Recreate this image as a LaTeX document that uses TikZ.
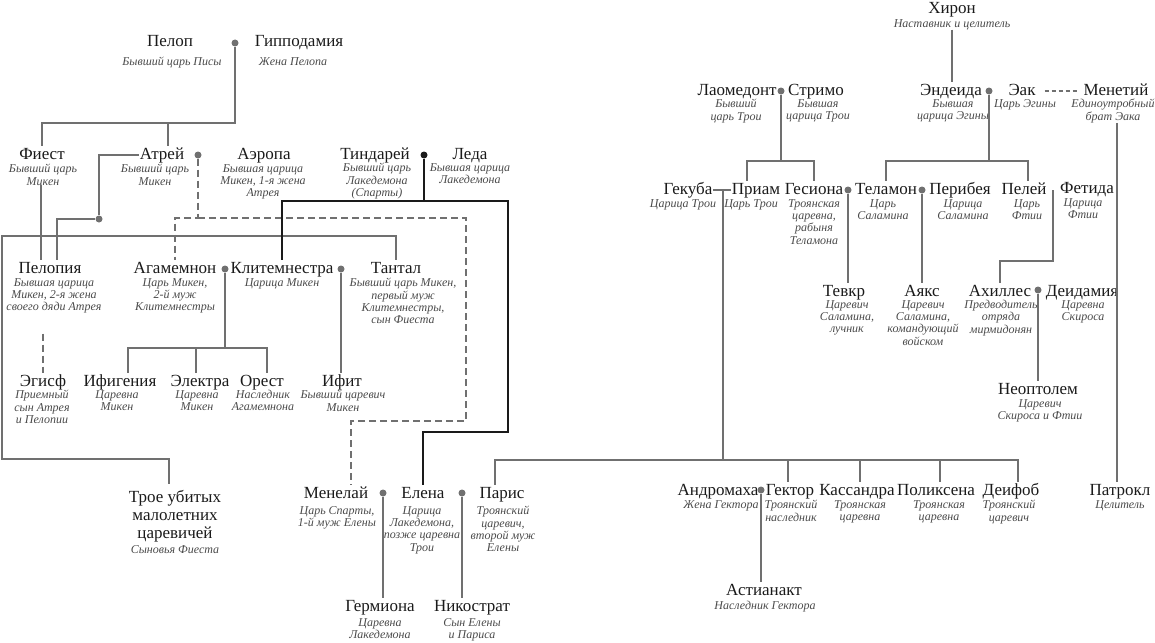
\documentclass[tikz,border=0pt]{standalone}
\usepackage{fontspec}
\setmainfont{Liberation Serif}
\definecolor{linegray}{HTML}{707070}
\definecolor{notegray}{HTML}{4A4A4A}
\definecolor{inkblack}{HTML}{1A1A1A}
\tikzset{
  person/.style={font=\fontsize{17}{18}\selectfont, text=inkblack, inner sep=1pt, text height=12pt, text depth=4pt},
  group/.style={font=\fontsize{17}{18}\selectfont, text=inkblack, inner xsep=1pt, inner ysep=6pt, align=center, anchor=north},
  note/.style={font=\fontsize{12}{12.4}\selectfont\itshape, text=notegray, inner sep=0pt, align=center, anchor=north},
  link/.style={draw=linegray, line width=1.3pt},
  tie/.style={draw=inkblack, line width=1.3pt},
  adopted/.style={link, dash pattern=on 7pt off 4pt},
  halfblood/.style={link, dash pattern=on 4pt off 3pt},
  knot/.style={circle, fill=linegray, inner sep=0pt, minimum size=7pt}
}
\begin{document}
\begin{tikzpicture}[x=1pt,y=-1pt]
        \useasboundingbox (0,0) rectangle (1155,642);
        \node[person] (pelop) at (170,43) {Пелоп};
        \node[note] (pelop-s) at (172,57) {Бывший царь Писы};
        \node[person] (hippodamia) at (299,43) {Гипподамия};
        \node[note] (hippodamia-s) at (293,57) {Жена Пелопа};
        \node[knot] (pelopknot) at (235,43) {};
        \node[person] (thyestes) at (42,155) {Фиест};
        \node[note] (thyestes-s) at (43,164) {Бывший царь\\Микен};
        \node[person] (atreus) at (162,155) {Атрей};
        \node[note] (atreus-s) at (155,164) {Бывший царь\\Микен};
        \node[knot] (atreusknot) at (198,155) {};
        \node[person] (aerope) at (264,155) {Аэропа};
        \node[note] (aerope-s) at (263,164) {Бывшая царица\\Микен, 1-я жена\\Атрея};
        \node[person] (tyndareus) at (375,155) {Тиндарей};
        \node[note] (tyndareus-s) at (377,163) {Бывший царь\\Лакедемона\\(Спарты)};
        \node[knot, fill=inkblack] (tyndareusknot) at (424,155) {};
        \node[person] (leda) at (470,155) {Леда};
        \node[note] (leda-s) at (470,163) {Бывшая царица\\Лакедемона};
        \node[person] (pelopia) at (50,269) {Пелопия};
        \node[note] (pelopia-s) at (54,278) {Бывшая царица\\Микен, 2-я жена\\своего дяди Атрея};
        \node[knot] (pelopiaknot) at (99,219) {};
        \node[person] (agamemnon) at (175,269) {Агамемнон};
        \node[note] (agamemnon-s) at (175,278) {Царь Микен,\\2-й муж\\Клитемнестры};
        \node[knot] (agamemnonknot) at (225,269) {};
        \node[person] (clytemnestra) at (282,269) {Клитемнестра};
        \node[note] (clytemnestra-s) at (282,278) {Царица Микен};
        \node[knot] (clytemnestraknot) at (341,269) {};
        \node[person] (tantalus) at (396,269) {Тантал};
        \node[note] (tantalus-s) at (403,278) {Бывший царь Микен,\\первый муж\\Клитемнестры,\\сын Фиеста};
        \node[person] (aegisthus) at (43,382) {Эгисф};
        \node[note] (aegisthus-s) at (42,390) {Приемный\\сын Атрея\\и Пелопии};
        \node[person] (iphigenia) at (120,382) {Ифигения};
        \node[note] (iphigenia-s) at (117,390) {Царевна\\Микен};
        \node[person] (electra) at (200,382) {Электра};
        \node[note] (electra-s) at (197,390) {Царевна\\Микен};
        \node[person] (orestes) at (262,382) {Орест};
        \node[note] (orestes-s) at (263,390) {Наследник\\Агамемнона};
        \node[person] (iphitus) at (342,382) {Ифит};
        \node[note] (iphitus-s) at (343,390) {Бывший царевич\\Микен};
        \node[group] (sons) at (175,484) {Трое убитых\\малолетних\\царевичей};
        \node[note] (sons-s) at (175,545) {Сыновья Фиеста};
        \node[person] (menelaus) at (336,494) {Менелай};
        \node[note] (menelaus-s) at (337,506) {Царь Спарты,\\1-й муж Елены};
        \node[knot] (menelausknot) at (383,493) {};
        \node[person] (helen) at (423,494) {Елена};
        \node[note] (helen-s) at (422,506) {Царица\\Лакедемона,\\позже царевна\\Трои};
        \node[knot] (helenknot) at (462,493) {};
        \node[person] (paris) at (502,494) {Парис};
        \node[note] (paris-s) at (503,506) {Троянский\\царевич,\\второй муж\\Елены};
        \node[person] (hermione) at (380,607) {Гермиона};
        \node[note] (hermione-s) at (380,618) {Царевна\\Лакедемона};
        \node[person] (nicostratus) at (472,607) {Никострат};
        \node[note] (nicostratus-s) at (472,618) {Сын Елены\\и Париса};
        \node[person] (chiron) at (952,10) {Хирон};
        \node[note] (chiron-s) at (952,19) {Наставник и целитель};
        \node[person] (laomedon) at (737,91) {Лаомедонт};
        \node[note] (laomedon-s) at (736,99) {Бывший\\царь Трои};
        \node[knot] (laomedonknot) at (781,91) {};
        \node[person] (strymo) at (816,91) {Стримо};
        \node[note] (strymo-s) at (818,99) {Бывшая\\царица Трои};
        \node[person] (endeis) at (951,91) {Эндеида};
        \node[note] (endeis-s) at (953,99) {Бывшая\\царица Эгины};
        \node[knot] (endeisknot) at (989,91) {};
        \node[person] (aeacus) at (1022,91) {Эак};
        \node[note] (aeacus-s) at (1025,99) {Царь Эгины};
        \node[person] (menoetius) at (1116,91) {Менетий};
        \node[note] (menoetius-s) at (1113,99) {Единоутробный\\брат Эака};
        \node[person] (hecuba) at (688,190) {Гекуба};
        \node[note] (hecuba-s) at (683,199) {Царица Трои};
        \node[person] (priam) at (756,190) {Приам};
        \node[note] (priam-s) at (751,199) {Царь Трои};
        \node[person] (hesione) at (814,190) {Гесиона};
        \node[note] (hesione-s) at (814,199) {Троянская\\царевна,\\рабыня\\Теламона};
        \node[knot] (hesioneknot) at (848,190) {};
        \node[person] (telamon) at (886,190) {Теламон};
        \node[note] (telamon-s) at (883,199) {Царь\\Саламина};
        \node[knot] (telamonknot) at (922,190) {};
        \node[person] (periboea) at (960,190) {Перибея};
        \node[note] (periboea-s) at (963,199) {Царица\\Саламина};
        \node[person] (peleus) at (1024,190) {Пелей};
        \node[note] (peleus-s) at (1027,199) {Царь\\Фтии};
        \node[person] (thetis) at (1087,189) {Фетида};
        \node[note] (thetis-s) at (1083,198) {Царица\\Фтии};
        \node[person] (teucer) at (844,292) {Тевкр};
        \node[note] (teucer-s) at (847,300) {Царевич\\Саламина,\\лучник};
        \node[person] (ajax) at (922,292) {Аякс};
        \node[note] (ajax-s) at (923,300) {Царевич\\Саламина,\\командующий\\войском};
        \node[person] (achilles) at (1000,292) {Ахиллес};
        \node[note] (achilles-s) at (1001,300) {Предводитель\\отряда\\мирмидонян};
        \node[knot] (achillesknot) at (1038,290) {};
        \node[person] (deidamia) at (1082,292) {Деидамия};
        \node[note] (deidamia-s) at (1083,300) {Царевна\\Скироса};
        \node[person] (neoptolemus) at (1038,390) {Неоптолем};
        \node[note] (neoptolemus-s) at (1040,399) {Царевич\\Скироса и Фтии};
        \node[person] (andromache) at (718,491) {Андромаха};
        \node[note] (andromache-s) at (721,500) {Жена Гектора};
        \node[knot] (andromacheknot) at (761,490) {};
        \node[person] (hector) at (790,491) {Гектор};
        \node[note] (hector-s) at (791,500) {Троянский\\наследник};
        \node[person] (astyanax) at (764,591) {Астианакт};
        \node[note] (astyanax-s) at (765,601) {Наследник Гектора};
        \node[person] (cassandra) at (857,491) {Кассандра};
        \node[note] (cassandra-s) at (860,500) {Троянская\\царевна};
        \node[person] (polyxena) at (936,491) {Поликсена};
        \node[note] (polyxena-s) at (939,500) {Троянская\\царевна};
        \node[person] (deiphobus) at (1011,491) {Деифоб};
        \node[note] (deiphobus-s) at (1009,500) {Троянский\\царевич};
        \node[person] (patroclus) at (1120,491) {Патрокл};
        \node[note] (patroclus-s) at (1120,500) {Целитель};
        \coordinate (pelopbar) at (235,123);
        \coordinate (thyestesrail) at (2,236);
        \coordinate (thyestescorner) at (2,459);
        \coordinate (adoptbar) at (198,218);
        \coordinate (adoptcorner) at (466,421);
        \coordinate (tyndareusbar) at (424,201);
        \coordinate (tyndareuscorner) at (508,432);
        \coordinate (agamemnonbar) at (225,348);
        \coordinate (priamjoint) at (723,190);
        \coordinate (troybar) at (723,460);
        \coordinate (laomedonbar) at (781,161);
        \coordinate (endeisbar) at (989,161);
        \coordinate (peleusmatch) at (1053,190);
        \coordinate (peleusbend) at (1053,261);
        \draw[link] (pelopknot) -- (pelopbar) -| (thyestes.north);
        \draw[link] (pelopbar) -| ([xshift=6pt]atreus.north);
        \draw[link] (atreus.west) -| (pelopiaknot);
        \draw[link] (pelopiaknot) -| ([xshift=7pt]pelopia.north);
        \draw[link] ([xshift=-2pt]thyestes-s.south) -- ([xshift=-2pt]thyestes-s.south |- pelopia.north);
        \draw[link] (tantalus.north) |- (thyestesrail) -- (thyestescorner) -| ([xshift=-6pt]sons.north);
        \draw[adopted] (atreusknot) -- (adoptbar) -| (agamemnon.north);
        \draw[adopted] (adoptbar) -| (adoptcorner) -| ([xshift=15pt]menelaus.north);
        \draw[adopted] ([yshift=-20pt]pelopia-s.south -| aegisthus.north) -- (aegisthus.north);
        \draw[tie] (tyndareusknot) -- (tyndareusbar) -| (clytemnestra.north);
        \draw[tie] (tyndareusbar) -| (tyndareuscorner) -| (helen.north);
        \draw[link] (agamemnonknot) -- (agamemnonbar) -| ([xshift=8pt]iphigenia.north);
        \draw[link] (agamemnonbar) -| ([xshift=-4pt]electra.north);
        \draw[link] (agamemnonbar) -| ([xshift=5pt]orestes.north);
        \draw[link] (clytemnestraknot) -- (clytemnestraknot |- iphitus.north);
        \draw[link] (menelausknot) -- (menelausknot |- hermione.north);
        \draw[link] (helenknot) -- (helenknot |- nicostratus.north);
        \draw[link] (hecuba.east) -- (priam.west);
        \draw[link] (priamjoint) -- (troybar) -| ([xshift=-7pt]paris.north);
        \draw[link] (troybar) -| ([xshift=7pt]deiphobus.north);
        \draw[link] (troybar) -| ([xshift=-2pt]hector.north);
        \draw[link] (troybar) -| ([xshift=3pt]cassandra.north);
        \draw[link] (troybar) -| ([xshift=4pt]polyxena.north);
        \draw[link] (andromacheknot) -- (andromacheknot |- astyanax.north);
        \draw[link] (laomedonknot) -- (laomedonbar) -| ([xshift=-9pt]priam.north);
        \draw[link] (laomedonbar) -| (hesione.north);
        \draw[link] (endeisknot) -- (endeisbar) -| (telamon.north);
        \draw[link] (endeisbar) -| ([xshift=4pt]peleus.north);
        \draw[link] (hesioneknot) -- (hesioneknot |- teucer.north);
        \draw[link] (telamonknot) -- (telamonknot |- ajax.north);
        \draw[link] (peleusmatch) -- (peleusbend) -| (achilles.north);
        \draw[link] (achillesknot) -- (achillesknot |- neoptolemus.north);
        \draw[link] (chiron-s.south) -- (chiron-s.south |- endeis.north);
        \draw[halfblood] ([xshift=8pt]aeacus.east) -- ([xshift=-5pt]menoetius.west);
        \draw[link] ([xshift=4pt]menoetius-s.south) -- ([xshift=4pt]menoetius-s.south |- patroclus.north);
\end{tikzpicture}
\end{document}
